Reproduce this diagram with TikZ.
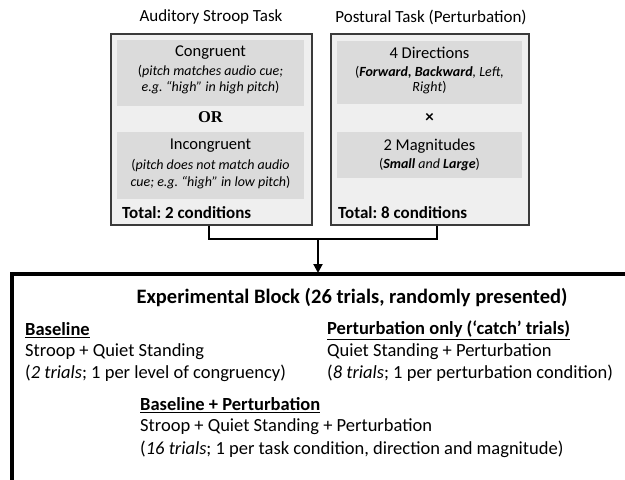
\documentclass[tikz,border=0pt]{standalone}
\usepackage{fontspec}
\setmainfont{Carlito}
\newfontfamily\orfont{Liberation Serif}
\usetikzlibrary{arrows.meta}
\frenchspacing
\definecolor{outerfill}{HTML}{EFEFEF}
\definecolor{innerfill}{HTML}{DBDBDB}
\definecolor{boxline}{HTML}{3A3A3A}
\tikzset{
  taskbox/.style={draw=boxline, line width=1.5pt, fill=outerfill, anchor=north west, inner sep=0pt},
  subbox/.style={fill=innerfill, anchor=north west, inner sep=0pt},
  title/.style={font=\fontsize{17}{19}\selectfont, inner sep=0pt},
  main/.style={font=\fontsize{16.5}{19}\selectfont, inner sep=0pt},
  note/.style={font=\fontsize{14}{16}\selectfont, inner sep=0pt},
  total/.style={font=\fontsize{17}{19}\selectfont\bfseries, inner sep=0pt, anchor=west},
  body/.style={font=\fontsize{18.5}{21}\selectfont, inner sep=0pt, anchor=west},
  head/.style={font=\fontsize{18.5}{21}\selectfont\bfseries, inner sep=0pt, anchor=west},
  conn/.style={draw=black, line width=2pt},
}
\begin{document}
\begin{tikzpicture}[x=1pt,y=-1pt]
\useasboundingbox (0,0) rectangle (625,480);
\clip (0,0) rectangle (625,480);
% titles
\node[title] (t1) at (211,17) {Auditory Stroop Task};
\node[title] (t2) at (431,17) {Postural Task (Perturbation)};
% task boxes
\node[taskbox, minimum width=201pt, minimum height=191pt] (stroop) at (110,33) {};
\node[taskbox, minimum width=198pt, minimum height=191pt] (postural) at (330,33) {};
% inner boxes left
\node[subbox, minimum width=187pt, minimum height=66pt] (cong) at (117,40) {};
\node[subbox, minimum width=187pt, minimum height=67pt] (incong) at (117,132) {};
\node[main] (c1) at (210.5,53) {Congruent};
\node[note] (c2) at (210.5,72) {(\textit{pitch matches audio cue;}};
\node[note] (c3) at (210.5,88) {\textit{e.g. “high” in high pitch})};
\node[font=\orfont\fontsize{16.5}{18}\selectfont\bfseries, inner sep=0pt] (or) at (210.5,117) {OR};
\node[main] (i1) at (210.5,146) {Incongruent};
\node[note] (i2) at (210.5,166) {(\textit{pitch does not match audio}};
\node[note] (i3) at (210.5,183) {\textit{cue; e.g. “high” in low pitch})};
\node[total] (tot1) at (122,213) {Total: 2 conditions};
% inner boxes right
\node[subbox, minimum width=185pt, minimum height=63pt] (dirs) at (337,41) {};
\node[subbox, minimum width=185pt, minimum height=46pt] (mags) at (337,132) {};
\node[main] (d1) at (429.5,53) {4 Directions};
\node[note] (d2) at (429.5,72) {(\textbf{\textit{Forward, Backward}}\textit{, Left,}};
\node[note] (d3) at (429.5,88) {\textit{Right})};
\node[font=\fontsize{17}{18}\selectfont\bfseries, inner sep=0pt] (times) at (429.5,118) {×};
\node[main] (m1) at (429.5,146) {2 Magnitudes};
\node[note] (m2) at (429.5,165) {(\textbf{\textit{Small}} \textit{and} \textbf{\textit{Large}})};
\node[total] (tot2) at (338,213) {Total: 8 conditions};
% experimental block
\node[draw=black, line width=3.5pt, anchor=north west, minimum width=660pt, minimum height=260pt, inner sep=0pt] (block) at (10,272) {};
% connectors
\coordinate (j) at (318,239);
\draw[conn] ([xshift=-2pt]stroop.south) |- (j) -| ([xshift=7pt]postural.south);
\draw[conn, -{Triangle[length=9pt,width=9pt]}] (j) -- ([yshift=-1pt]j |- block.north);
% block contents
\node[font=\fontsize{20.5}{23}\selectfont\bfseries, inner sep=0pt] (bt) at (352,297) {Experimental Block (26 trials, randomly presented)};
\node[head] (b1) at (25,330) {\underline{Baseline}};
\node[body] (b2) at (25,352) {Stroop + Quiet Standing};
\node[body] (b3) at (25,373) {(\textit{2 trials}; 1 per level of congruency)};
\node[head] (p1) at (327,330) {\underline{Perturbation only (‘catch’ trials)}};
\node[body] (p2) at (327,352) {Quiet Standing + Perturbation};
\node[body] (p3) at (327,373) {(\textit{8 trials}; 1 per perturbation condition)};
\node[head] (bp1) at (140,405) {\underline{Baseline + Perturbation}};
\node[body] (bp2) at (140,427) {Stroop + Quiet Standing + Perturbation};
\node[body] (bp3) at (140,449) {(\textit{16 trials}; 1 per task condition, direction and magnitude)};
\end{tikzpicture}
\end{document}
